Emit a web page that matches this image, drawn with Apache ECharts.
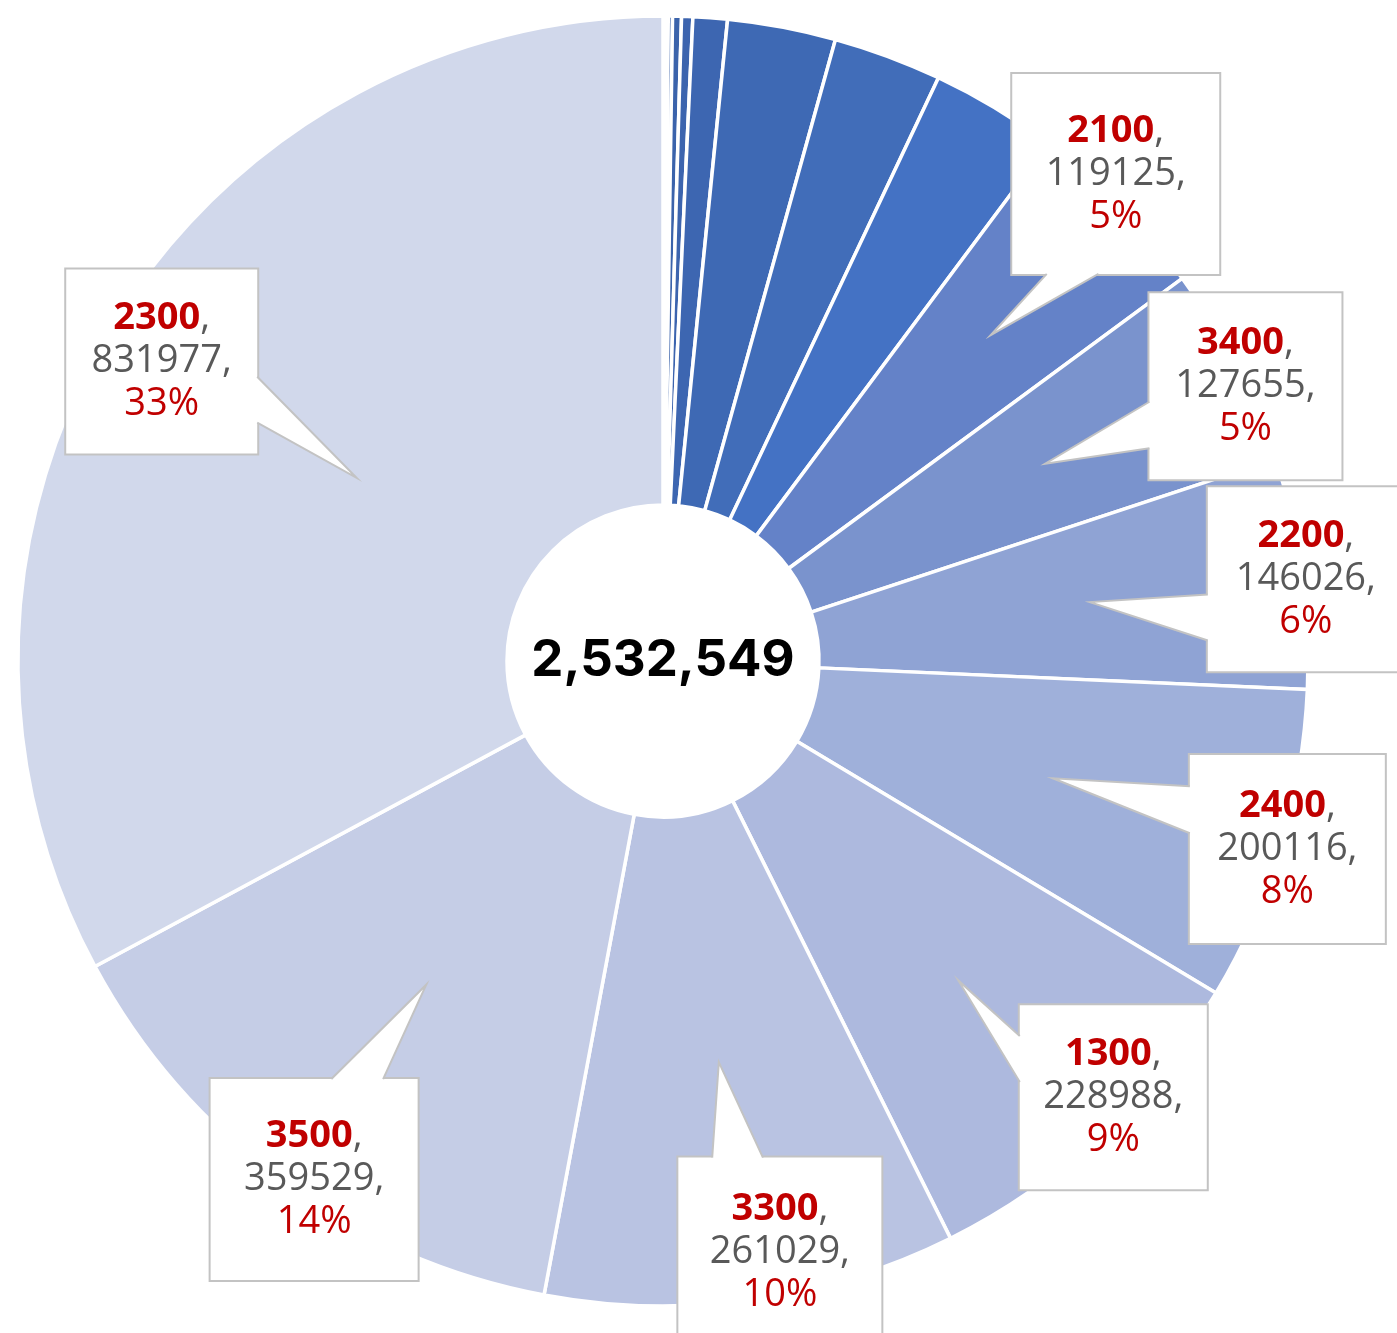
<!DOCTYPE html>
<html>
<head>
<meta charset="utf-8">
<script src="https://cdn.jsdelivr.net/npm/echarts@6/dist/echarts.min.js"></script>
<style>
  html, body { margin: 0; padding: 0; background: #ffffff; }
  #chart { width: 1397px; height: 1333px; }
</style>
</head>
<body>
<div id="chart"></div>
<script>
// ---- data ----
const categories = ['O1', 'O2', 'O3', 'O4', 'O5', 'O6', 'O7', 'O8', 'O9',
  '2100', '3400', '2200', '2400', '1300', '3300', '3500', '2300'];
const values = [1450, 1850, 2680, 5628, 7105, 21738, 68650, 68760, 80243,
  119125, 127655, 146026, 200116, 228988, 261029, 359529, 831977];
const labeledCategories = ['2100', '3400', '2200', '2400', '1300', '3300', '3500', '2300'];

// ---- styling ----
const sliceColors = ['#3a5fa3', '#3a60a6', '#3b62a9', '#3b63ab', '#3c64ae', '#3d66b1', '#3e69b4', '#416db9', '#4472c4',
  '#6482c8', '#7a93cd', '#8fa3d4', '#9fb0da', '#adb9de', '#b9c3e2', '#c5cde6', '#d1d8eb'];
const RED = '#c00000';
const GREY = '#595959';
const BOX_BORDER = '#c3c3c3';
const FONT = 'Open Sans';
const FONT_SIZE = 38;
const LINE_H = 43;
const TEXT_W = 160;

// callout placement: box distance from centre, angular shift of the box (deg),
// wedge tip distance along the slice bisector, box size
const calloutPlacement = {
  '2100': { box: 665, shift: -2.25, tip: 462, w: 207, h: 200 },
  '3400': { box: 644, shift: 2.05, tip: 430, w: 192, h: 186 },
  '2200': { box: 648, shift: 0.6, tip: 431, w: 196, h: 184 },
  '2400': { box: 652, shift: 0, tip: 407, w: 195, h: 188 },
  '1300': { box: 627, shift: -3.15, tip: 435, w: 187, h: 184 },
  '3300': { box: 603, shift: -3.25, tip: 405, w: 203, h: 190 },
  '3500': { box: 625, shift: -2.25, tip: 401, w: 207, h: 201 },
  '2300': { box: 584, shift: 0, tip: 357, w: 191, h: 184 }
};

const total = values.reduce((a, b) => a + b, 0);
const chart = echarts.init(document.getElementById('chart'));

function calloutGeometry(dataIndex) {
  const place = calloutPlacement[categories[dataIndex]];
  const layout = chart.getModel().getSeriesByIndex(0).getData().getItemLayout(dataIndex);
  const mid = (layout.startAngle + layout.endAngle) / 2;
  const boxAngle = mid + place.shift * Math.PI / 180;
  return {
    bx: layout.cx + place.box * Math.cos(boxAngle),
    by: layout.cy + place.box * Math.sin(boxAngle),
    tx: layout.cx + place.tip * Math.cos(mid),
    ty: layout.cy + place.tip * Math.sin(mid),
    w: place.w,
    h: place.h
  };
}

// wedge of a rectangular callout: base sits on the box side facing the tip
function wedgeElements(g) {
  const left = g.bx - g.w / 2, top = g.by - g.h / 2;
  const dx = g.tx - g.bx, dy = g.ty - g.by;
  const dq = dx * g.h / g.w;
  let b1, b2, inset;
  if (Math.abs(dq) > Math.abs(dy)) {
    const y1 = top + g.h * (dy > 0 ? 7 : 2) / 12;
    const y2 = top + g.h * (dy > 0 ? 10 : 5) / 12;
    const x = dx < 0 ? left : left + g.w;
    b1 = [x, y1]; b2 = [x, y2]; inset = [dx < 0 ? 3 : -3, 0];
  } else {
    const x1 = left + g.w * (dx > 0 ? 7 : 2) / 12;
    const x2 = left + g.w * (dx > 0 ? 10 : 5) / 12;
    const y = dy < 0 ? top : top + g.h;
    b1 = [x1, y]; b2 = [x2, y]; inset = [0, dy < 0 ? 3 : -3];
  }
  const tip = [g.tx, g.ty];
  return [
    {
      type: 'polygon', z: 100, silent: true,
      shape: { points: [[b1[0] + inset[0], b1[1] + inset[1]], b1, tip, b2, [b2[0] + inset[0], b2[1] + inset[1]]] },
      style: { fill: '#ffffff', stroke: null }
    },
    {
      type: 'polyline', z: 101, silent: true,
      shape: { points: [b1, tip, b2] },
      style: { stroke: BOX_BORDER, lineWidth: 2, fill: null }
    }
  ];
}

const textStyle = { fontFamily: FONT, fontSize: FONT_SIZE, lineHeight: LINE_H };

const pieData = categories.map((name, i) => {
  const item = { name: name, value: values[i], itemStyle: { color: sliceColors[i] } };
  if (labeledCategories.indexOf(name) >= 0) {
    const p = calloutPlacement[name];
    item.label = {
      show: true,
      padding: [(p.h - 3 * LINE_H) / 2, (p.w - TEXT_W) / 2]
    };
  }
  return item;
});

chart.setOption({
  animation: false,
  backgroundColor: '#ffffff',
  series: [
    {
      type: 'pie',
      center: [663, 661],
      radius: [156, 645],
      startAngle: 90,
      clockwise: true,
      silent: true,
      avoidLabelOverlap: false,
      itemStyle: { borderColor: '#ffffff', borderWidth: 3.5 },
      label: {
        show: false,
        position: 'inside',
        width: TEXT_W,
        overflow: 'none',
        align: 'center',
        backgroundColor: '#ffffff',
        borderColor: BOX_BORDER,
        borderWidth: 2,
        fontFamily: FONT,
        fontSize: FONT_SIZE,
        lineHeight: LINE_H,
        formatter: function (params) {
          return '{n|' + params.name + '}{c|,}\n{c|' + params.value + ',}\n{p|' + Math.round(params.percent) + '%}';
        },
        rich: {
          n: Object.assign({ fontWeight: 'bold', color: RED }, textStyle),
          c: Object.assign({ color: GREY }, textStyle),
          p: Object.assign({ color: RED }, textStyle)
        }
      },
      labelLine: { show: false },
      labelLayout: function (params) {
        if (labeledCategories.indexOf(categories[params.dataIndex]) < 0) return {};
        const g = calloutGeometry(params.dataIndex);
        return { x: g.bx, y: g.by, align: 'center', verticalAlign: 'middle' };
      },
      data: pieData
    },
    {
      type: 'pie',
      center: [663, 661],
      radius: [0, 150],
      silent: true,
      itemStyle: { color: '#ffffff' },
      label: {
        show: true,
        position: 'center',
        formatter: total.toLocaleString('en-US'),
        fontFamily: 'Inter',
        fontWeight: 'bold',
        fontSize: 51,
        color: '#000000'
      },
      labelLine: { show: false },
      data: [{ name: 'Total', value: total }]
    }
  ]
});

// callout wedges, built from the laid-out slices
const wedges = [];
categories.forEach((name, i) => {
  if (labeledCategories.indexOf(name) >= 0) {
    wedgeElements(calloutGeometry(i)).forEach(el => wedges.push(el));
  }
});
chart.setOption({ graphic: { elements: wedges } });
</script>
</body>
</html>
